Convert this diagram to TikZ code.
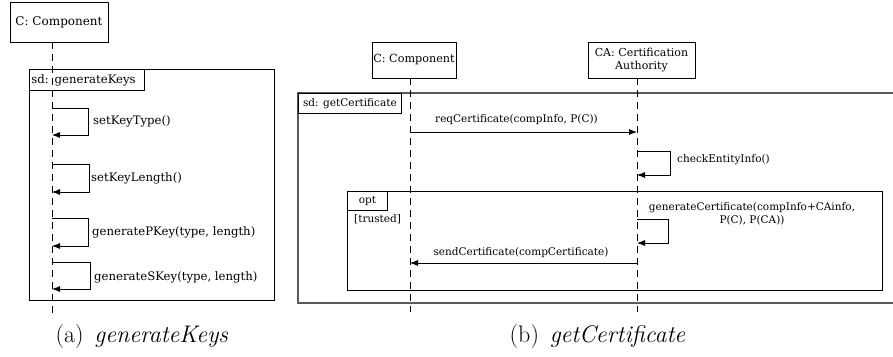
\documentclass[tikz,border=0pt]{standalone}
\usepackage{fontspec}
\newfontfamily\dv{DejaVu Serif}
\usetikzlibrary{arrows.meta}
\begin{document}
\begin{tikzpicture}[x=1pt,y=-1pt,
  obj/.style={draw,line width=0.8pt,fill=white,inner sep=0pt,font=\dv\fontsize{11.2}{13}\selectfont,align=center},
  life/.style={line width=0.8pt,dash pattern=on 7pt off 5pt},
  frame/.style={draw,line width=0.9pt},
  outerframe/.style={draw,line width=1.3pt,draw=black!65},
  tag/.style={draw,line width=0.8pt,fill=white,inner sep=0pt,font=\dv\fontsize{10.5}{12}\selectfont},
  msg/.style={line width=0.8pt,-{Latex[length=8pt,width=6pt]}},
  lbl/.style={font=\dv\fontsize{10.5}{12.5}\selectfont,inner sep=0pt,align=center},
  biglbl/.style={font=\dv\fontsize{11.7}{14}\selectfont,inner sep=0pt},
  captxt/.style={font=\fontsize{24}{28}\selectfont,inner sep=0pt}]
\useasboundingbox (0,0) rectangle (893,356);

% ---------- (a) generateKeys ----------
\node[obj,font=\dv\fontsize{12}{14}\selectfont,minimum width=98pt,minimum height=40pt] (ca) at (59,22) {C: Component};
\coordinate (la1) at (52,42);
\coordinate (la2) at (52,318);
\draw[frame] (29,69) rectangle (274,300);
\node[tag,font=\dv\fontsize{11.7}{13}\selectfont,minimum width=115pt,minimum height=21pt,anchor=north west,text width=111pt,align=left,inner xsep=2pt] (sda) at (29,69) {sd: generateKeys};
\draw[life] (la1) -- (la2);

\foreach \t/\b/\r/\n in {108/135/88/1,164/192/89/2,218/246/88/3,262/289/90/4}{
  \coordinate (s\n a) at (52,\t);
  \coordinate (s\n b) at (52,\b);
  \draw[msg] (s\n a) -| (\r,\b) -- (s\n b);
}
\node[biglbl,anchor=west] (m1) at (93,121) {setKeyType()};
\node[biglbl,anchor=west] (m2) at (91,178) {setKeyLength()};
\node[biglbl,anchor=west] (m3) at (92,232) {generatePKey(type, length)};
\node[biglbl,anchor=west] (m4) at (94,277) {generateSKey(type, length)};

\node[captxt] (capa) at (142,337) {(a)\hspace{0.45em}\textit{generateKeys}};

% ---------- (b) getCertificate ----------
\draw[outerframe] (905,93) -- (298,93) -- (298,303) -- (905,303);
\node[tag,minimum width=103pt,minimum height=20pt,anchor=north west] (sdb) at (298,93) {sd: getCertificate};
\draw[frame] (347,191) rectangle (882,290);
\node[tag,minimum width=40pt,minimum height=19pt,anchor=north west] (opt) at (347,191) {opt};
\node[lbl,anchor=north west] (grd) at (354,214) {[trusted]};

\node[obj,minimum width=84pt,minimum height=36pt] (cc) at (414,60) {C: Component};
\node[obj,font=\dv\fontsize{11}{13}\selectfont,minimum width=107pt,minimum height=36pt] (ca2) at (641.5,60) {CA: Certification\\Authority};
\coordinate (lc1) at (410,78);
\coordinate (lc2) at (410,312);
\coordinate (lk1) at (637,78);
\coordinate (lk2) at (637,312);
\draw[life] (lc1) -- (lc2);
\draw[life] (lk1) -- (lk2);

\coordinate (r1) at (410,132);
\coordinate (r2) at (637,132);
\draw[msg] (r1) -- (r2);
\node[lbl] (rl) at (516.5,120) {reqCertificate(compInfo, P(C))};

\coordinate (c1) at (637,151);
\coordinate (c2) at (637,175);
\draw[msg] (c1) -| (670,175) -- (c2);
\node[lbl,anchor=west] (cl) at (677,160) {checkEntityInfo()};

\coordinate (g1) at (637,219);
\coordinate (g2) at (637,243);
\draw[msg] (g1) -| (668,243) -- (g2);
\node[lbl] (gl) at (752,214) {generateCertificate(compInfo+CAinfo,\\P(C), P(CA))};

\coordinate (d1) at (637,263);
\coordinate (d2) at (410,263);
\draw[msg] (d1) -- (d2);
\node[lbl] (dl) at (521,253) {sendCertificate(compCertificate)};

\node[captxt] (capb) at (597.5,337) {(b)\hspace{0.45em}\textit{getCertificate}};
\end{tikzpicture}
\end{document}
